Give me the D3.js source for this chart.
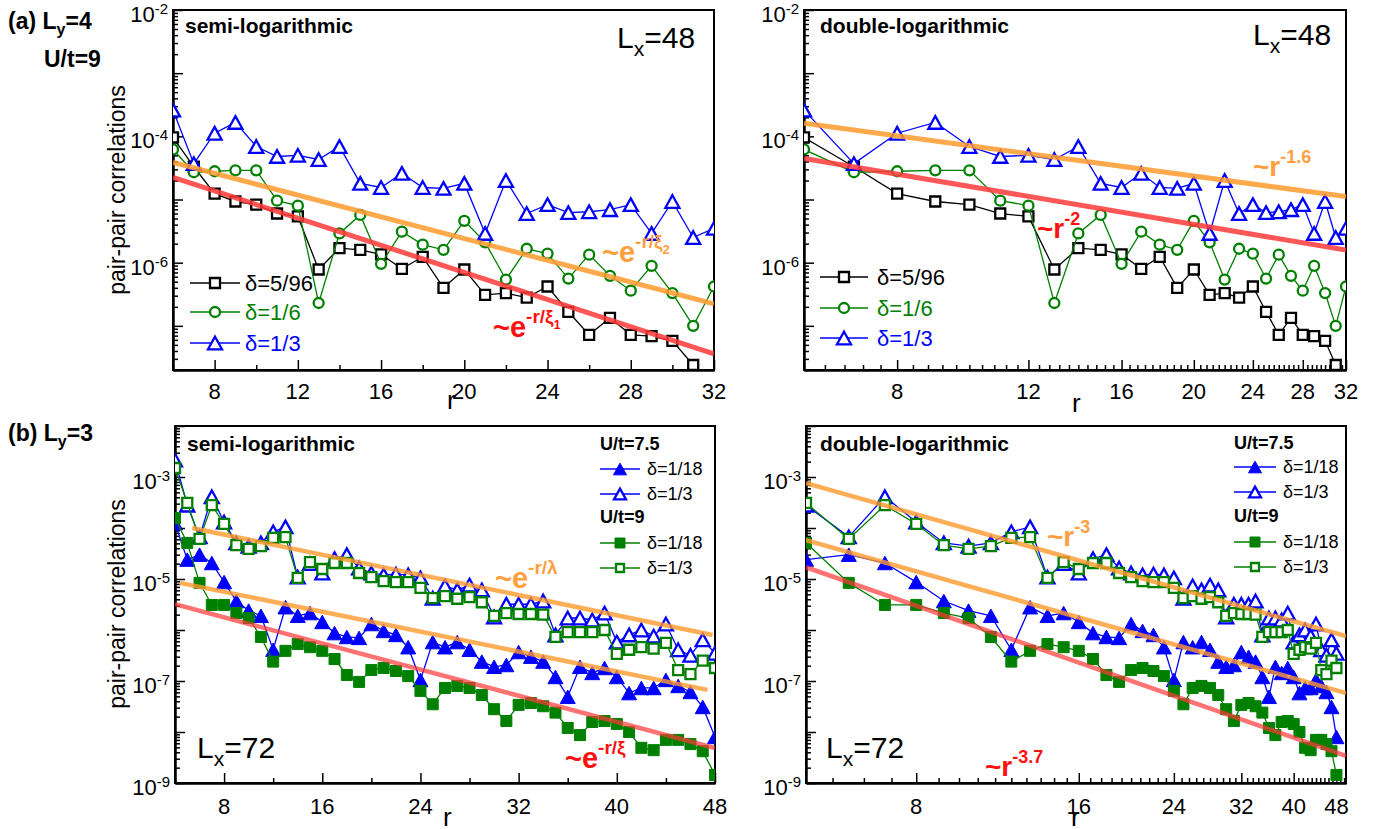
<!DOCTYPE html>
<html>
<head>
<meta charset="utf-8">
<script src="https://cdn.jsdelivr.net/npm/d3@7"></script>
<style>
  body { margin: 0; background: #fff; }
  svg { display: block; font-family: "Liberation Sans", Arial, Helvetica, sans-serif; }
</style>
</head>
<body>
<svg id="chart" width="1380" height="829"></svg>
<script>
// ---------- data: L_y = 4, U/t = 9, L_x = 48 ----------
const rShort = [6,7,8,9,10,11,12,13,14,15,16,17,18,19,20,21,22,23,24,25,26,27,28,29,30,31,32];
const corrD5_96 = [9.6e-5,3.3e-5,1.24e-5,9.3e-6,8.3e-6,6.0e-6,5.4e-6,7.8e-7,1.7e-6,1.6e-6,1.35e-6,8.0e-7,1.24e-6,4.0e-7,7.8e-7,3.1e-7,3.3e-7,2.8e-7,4.2e-7,1.67e-7,7.2e-8,1.34e-7,7.2e-8,6.9e-8,5.8e-8,2.4e-8,null];
const corrD1_6  = [6.2e-5,2.7e-5,2.8e-5,2.9e-5,2.9e-5,9.6e-6,8.0e-6,2.3e-7,2.9e-6,5.7e-6,9.6e-7,3.1e-6,1.93e-6,1.6e-6,4.6e-6,2.1e-6,5.4e-7,1.66e-6,1.39e-6,5.6e-7,1.34e-6,6.2e-7,3.6e-7,8.9e-7,3.3e-7,1.0e-7,4.2e-7];
const corrD1_3  = [2.6e-4,3.7e-5,1.12e-4,1.66e-4,6.9e-5,4.8e-5,5.0e-5,4.3e-5,6.9e-5,1.8e-5,1.55e-5,2.6e-5,1.55e-5,1.5e-5,1.8e-5,2.9e-6,2.0e-5,6.0e-6,8.3e-6,6.2e-6,6.4e-6,6.9e-6,8.3e-6,2.9e-6,9.3e-6,2.5e-6,3.5e-6];

// ---------- data: L_y = 3, L_x = 72 ----------
const rLong = [4,5,6,7,8,9,10,11,12,13,14,15,16,17,18,19,20,21,22,23,24,25,26,27,28,29,30,31,32,33,34,35,36,37,38,39,40,41,42,43,44,45,46,47,48];
const u75D1_18 = [1.25e-4,2.4e-5,3.0e-5,2.06e-5,8.7e-6,3.7e-6,2.4e-6,1.9e-6,4.1e-7,2.8e-6,1.9e-6,2.15e-6,1.44e-6,8.7e-7,7.3e-7,7.0e-7,1.31e-6,9.6e-7,8.0e-7,4.6e-7,1.05e-7,5.8e-7,4.6e-7,5.8e-7,4.1e-7,2.4e-7,1.9e-7,2.06e-7,3.7e-7,3.0e-7,2.4e-7,1.2e-7,4.9e-8,1.9e-7,1.44e-7,1.8e-7,1.2e-7,5.8e-8,7.3e-8,7.3e-8,1.05e-7,8.0e-8,6.1e-8,3.1e-8,8.0e-9];
const u75D1_3  = [2.15e-3,2.8e-4,6.7e-5,4.1e-4,1.31e-4,5.1e-5,4.4e-5,5.1e-5,8.4e-5,1.05e-4,1.09e-5,2.0e-5,1.31e-5,2.5e-5,3.0e-5,1.64e-5,1.31e-5,1.2e-5,1.25e-5,1.2e-5,1.05e-5,4.2e-6,7.3e-6,6.1e-6,7.6e-6,6.1e-6,1.8e-6,3.2e-6,3.2e-6,3.2e-6,3.7e-6,8.0e-7,1.72e-6,1.72e-6,1.57e-6,2.15e-6,5.8e-7,8.0e-7,1.0e-6,7.6e-7,1.31e-6,4.1e-7,3.2e-7,6.4e-7,3.5e-7];
const u9D1_18  = [1.57e-4,5.1e-5,8.4e-6,3.1e-6,3.1e-6,2.15e-6,1.72e-6,7.3e-7,2.4e-7,3.9e-7,5.3e-7,4.6e-7,3.9e-7,2.7e-7,1.31e-7,9.6e-8,1.64e-7,1.8e-7,1.57e-7,1.25e-7,6.4e-8,3.5e-8,7.3e-8,8.0e-8,7.3e-8,5.3e-8,2.8e-8,1.64e-8,3.4e-8,3.7e-8,3.2e-8,2.4e-8,1.2e-8,8.7e-9,1.57e-8,1.64e-8,1.44e-8,1.0e-8,4.9e-9,4.4e-9,7.0e-9,7.0e-9,5.8e-9,4.2e-9,1.44e-9];
const u9D1_3   = [1.5e-3,3.1e-4,6.1e-5,2.8e-4,1.2e-4,4.6e-5,3.9e-5,4.4e-5,6.4e-5,6.6e-5,1.05e-5,2.15e-5,1.57e-5,2.06e-5,2.06e-5,1.31e-5,1.09e-5,9.1e-6,8.7e-6,8.7e-6,6.7e-6,4.2e-6,4.6e-6,4.1e-6,4.4e-6,3.5e-6,1.9e-6,2.15e-6,2.06e-6,2.06e-6,2.0e-6,7.3e-7,9.1e-7,9.1e-7,9.1e-7,1.0e-6,3.4e-7,4.1e-7,4.6e-7,4.3e-7,5.6e-7,1.64e-7,1.37e-7,2.5e-7,1.8e-7];

// ---------- fitted decays: [r, value] end points ----------
const fitExpXi2    = [[6, 3.87e-5], [32, 2.23e-7]];
const fitExpXi1    = [[6, 2.24e-5], [32, 3.6e-8]];
const fitPow16     = [[6, 1.61e-4], [32, 1.11e-5]];
const fitPow2      = [[6, 4.48e-5], [32, 1.58e-6]];
const fitExpLamHi  = [[5.4, 1.0e-4], [47.8, 8.0e-7]];
const fitExpLamLo  = [[4.4, 8.4e-6], [47.4, 6.7e-8]];
const fitExpXi     = [[4, 3.2e-6], [48, 4.85e-9]];
const fitPow3Hi    = [[5, 7.6e-4], [50, 7.6e-7]];
const fitPow3Lo    = [[5, 5.8e-5], [50, 5.8e-8]];
const fitPow37     = [[5, 1.7e-5], [50, 3.4e-9]];

// ---------- tick labels ----------
const xTicksTop = [8, 12, 16, 20, 24, 28, 32];
const xTicksBottom = [8, 16, 24, 32, 40, 48];
const yLabelsTop = [-2, -4, -6];
const yLabelsBottom = [-3, -5, -7, -9];

// ---------- styling ----------
const BLUE = "#0000ff", GREEN = "#008000", BLACK = "#000000";
const ORANGE_LINE = "#ff9a2e", RED_LINE = "#ff3838";
const ORANGE_TXT = "#ffa040", RED_TXT = "#ff1010";

const svg = d3.select("#chart");
const defs = svg.append("defs");

function rich(parent, x, y, parts, attrs) {
  const t = parent.append("text").attr("x", x).attr("y", y);
  Object.entries(attrs || {}).forEach(([k, v]) => t.attr(k, v));
  parts.forEach(p => {
    const s = t.append("tspan").text(p.t);
    if (p.size) s.attr("font-size", p.size);
    if (p.dy) s.attr("dy", p.dy);
    if (p.weight) s.attr("font-weight", p.weight);
  });
  return t;
}

const sq = s => `M${-s/2},${-s/2}h${s}v${s}h${-s}Z`;
const tri = w => { const h = w * 0.9; return `M0,${-h/2}L${w/2},${h/2}L${-w/2},${h/2}Z`; };
const circ = r => `M${-r},0a${r},${r} 0 1,0 ${2*r},0a${r},${r} 0 1,0 ${-2*r},0Z`;

function panel(cfg) {
  const g = svg.append("g");
  const x = (cfg.xLog ? d3.scaleLog() : d3.scaleLinear()).domain(cfg.xDomain).range([cfg.x0, cfg.x1]);
  const y = d3.scaleLog().domain(cfg.yDomain).range([cfg.y1, cfg.y0]);
  const clipId = "clip-" + cfg.id;
  defs.append("clipPath").attr("id", clipId).append("rect")
    .attr("x", cfg.x0).attr("y", cfg.y0).attr("width", cfg.x1 - cfg.x0).attr("height", cfg.y1 - cfg.y0);

  // y ticks: decades plus 2..9 minors
  const lo = Math.log10(cfg.yDomain[0]), hi = Math.log10(cfg.yDomain[1]);
  const yMaj = [], yMin = [];
  for (let e = Math.floor(lo); e <= Math.ceil(hi); e++) {
    const d = Math.pow(10, e);
    if (e >= lo - 1e-9 && e <= hi + 1e-9) yMaj.push(d);
    for (let m = 2; m <= 9; m++) {
      const v = m * d;
      if (v >= cfg.yDomain[0] * 0.999 && v <= cfg.yDomain[1]) yMin.push(v);
    }
  }
  const axG = g.append("g").attr("stroke-width", 1.5);
  axG.append("g").attr("transform", `translate(${cfg.x0},0)`)
    .call(d3.axisLeft(y).tickValues(yMin).tickSize(-5).tickSizeOuter(0).tickFormat(""));
  axG.append("g").attr("transform", `translate(${cfg.x0},0)`)
    .call(d3.axisLeft(y).tickValues(yMaj).tickSize(-10).tickSizeOuter(0).tickFormat(""));
  axG.append("g").attr("transform", `translate(0,${cfg.y1})`)
    .call(d3.axisBottom(x).tickValues(cfg.xMinor).tickSize(-5).tickSizeOuter(0).tickFormat(""));
  axG.append("g").attr("transform", `translate(0,${cfg.y1})`)
    .call(d3.axisBottom(x).tickValues(cfg.xMajor).tickSize(-10).tickSizeOuter(0).tickFormat(""));
  axG.selectAll(".tick line").attr("stroke", "#000").attr("stroke-width", 1.5);
  axG.selectAll(".domain").attr("stroke", "#000").attr("stroke-width", 2);

  g.append("rect").attr("x", cfg.x0).attr("y", cfg.y0)
    .attr("width", cfg.x1 - cfg.x0).attr("height", cfg.y1 - cfg.y0)
    .attr("fill", "none").attr("stroke", "#000").attr("stroke-width", 2);

  // tick labels
  cfg.yLabels.forEach(e => {
    rich(g, cfg.x0 - 5, y(Math.pow(10, e)) + 12,
      [{ t: "10", size: 22 }, { t: String(e), size: 15, dy: -8 }],
      { "text-anchor": "end", fill: "#000" });
  });
  cfg.xLabels.forEach(v => {
    g.append("text").attr("x", x(v)).attr("y", cfg.y1 + cfg.xLabelDy)
      .attr("text-anchor", "middle").attr("font-size", 22).text(v);
  });

  const plot = g.append("g").attr("clip-path", `url(#${clipId})`);
  return { g, plot, x, y };
}

function series(p, rs, vs, color, marker, filled, lw) {
  const pts = rs.map((r, i) => [r, vs[i]]).filter(d => d[1] != null);
  p.plot.append("path")
    .attr("d", d3.line().x(d => p.x(d[0])).y(d => p.y(d[1]))(pts))
    .attr("fill", "none").attr("stroke", color).attr("stroke-width", lw || 1.3);
  p.plot.selectAll(null).data(pts).enter().append("path")
    .attr("transform", d => `translate(${p.x(d[0])},${p.y(d[1])})`)
    .attr("d", marker)
    .attr("fill", filled ? color : "#fff")
    .attr("stroke", color).attr("stroke-width", filled ? 1 : 2.3);
}

function fit(p, pts, color, width, opacity) {
  p.plot.append("path")
    .attr("d", d3.line().x(d => p.x(d[0])).y(d => p.y(d[1]))(pts))
    .attr("fill", "none").attr("stroke", color).attr("stroke-width", width)
    .attr("stroke-opacity", opacity).attr("stroke-linecap", "butt");
}

function legendItem(g, x0, x1, y, marker, color, filled, label, size, txtColor, tx) {
  g.append("line").attr("x1", x0).attr("x2", x1).attr("y1", y).attr("y2", y)
    .attr("stroke", color).attr("stroke-width", 1.3);
  g.append("path").attr("transform", `translate(${(x0 + x1) / 2},${y})`).attr("d", marker)
    .attr("fill", filled ? color : "#fff").attr("stroke", color).attr("stroke-width", filled ? 1 : 2.3);
  g.append("text").attr("x", tx).attr("y", y + size * 0.36).attr("font-size", size)
    .attr("fill", txtColor).text(label);
}

// ---------- minor x ticks ----------
const minorTopLin = [6, 10, 14, 18, 22, 26, 30];
const minorTopLog = [];
for (let k = 0; k <= 65; k++) { const v = +(6 + 0.4 * k).toFixed(2); if (v <= 32 && xTicksTop.indexOf(v) < 0) minorTopLog.push(v); }
const minorBotLin = [4, 12, 20, 28, 36, 44];
const minorBotLog = [];
for (let k = 0; k <= 60; k++) { const v = +(5.6 + 0.8 * k).toFixed(2); if (v <= 50 && xTicksBottom.indexOf(v) < 0) minorBotLog.push(v); }

// ---------- panel (a) semi-logarithmic ----------
const pA1 = panel({ id: "a1", x0: 173, y0: 10, x1: 714, y1: 370, xLog: false, xDomain: [6, 32],
  yDomain: [2e-8, 1e-2], xMajor: xTicksTop, xMinor: minorTopLin, xLabels: xTicksTop, xLabelDy: 29, yLabels: yLabelsTop });
series(pA1, rShort, corrD5_96, BLACK, sq(10), false);
series(pA1, rShort, corrD1_6, GREEN, circ(5), false);
series(pA1, rShort, corrD1_3, BLUE, tri(14), false);
fit(pA1, fitExpXi2, ORANGE_LINE, 5, 0.85);
fit(pA1, fitExpXi1, RED_LINE, 5, 0.85);

// ---------- panel (a) double-logarithmic ----------
const pA2 = panel({ id: "a2", x0: 804, y0: 10, x1: 1346, y1: 370, xLog: true, xDomain: [6, 32],
  yDomain: [2e-8, 1e-2], xMajor: xTicksTop, xMinor: minorTopLog, xLabels: xTicksTop, xLabelDy: 29, yLabels: yLabelsTop });
series(pA2, rShort, corrD5_96, BLACK, sq(10), false);
series(pA2, rShort, corrD1_6, GREEN, circ(5), false);
series(pA2, rShort, corrD1_3, BLUE, tri(14), false);
fit(pA2, fitPow16, ORANGE_LINE, 5, 0.85);
fit(pA2, fitPow2, RED_LINE, 5, 0.85);

// ---------- panel (b) semi-logarithmic ----------
const pB1 = panel({ id: "b1", x0: 175, y0: 426, x1: 715, y1: 783, xLog: false, xDomain: [4, 48],
  yDomain: [1e-9, 1e-2], xMajor: xTicksBottom, xMinor: minorBotLin, xLabels: xTicksBottom, xLabelDy: 31, yLabels: yLabelsBottom });
series(pB1, rLong, u75D1_18, BLUE, tri(15), true);
series(pB1, rLong, u75D1_3, BLUE, tri(14), false);
series(pB1, rLong, u9D1_18, GREEN, sq(11), true);
series(pB1, rLong, u9D1_3, GREEN, sq(10), false);
fit(pB1, fitExpLamHi, ORANGE_LINE, 4.5, 0.8);
fit(pB1, fitExpLamLo, ORANGE_LINE, 4.5, 0.8);
fit(pB1, fitExpXi, RED_LINE, 4.5, 0.7);

// ---------- panel (b) double-logarithmic ----------
const pB2 = panel({ id: "b2", x0: 806, y0: 426, x1: 1346, y1: 783, xLog: true, xDomain: [5, 50],
  yDomain: [1e-9, 1e-2], xMajor: xTicksBottom, xMinor: minorBotLog, xLabels: xTicksBottom, xLabelDy: 31, yLabels: yLabelsBottom });
series(pB2, rLong, u75D1_18, BLUE, tri(15), true);
series(pB2, rLong, u75D1_3, BLUE, tri(14), false);
series(pB2, rLong, u9D1_18, GREEN, sq(11), true);
series(pB2, rLong, u9D1_3, GREEN, sq(10), false);
fit(pB2, fitPow3Hi, ORANGE_LINE, 4.5, 0.8);
fit(pB2, fitPow3Lo, ORANGE_LINE, 4.5, 0.8);
fit(pB2, fitPow37, RED_LINE, 4.5, 0.7);

// ---------- annotations ----------
const ann = svg.append("g").attr("fill", "#000");
rich(ann, 8, 29, [{ t: "(a) L", size: 23 }, { t: "y", size: 16, dy: 6 }, { t: "=4", size: 23, dy: -6 }], { "font-weight": "bold" });
rich(ann, 44, 67, [{ t: "U/t=9", size: 23 }], { "font-weight": "bold" });
rich(ann, 8, 441, [{ t: "(b) L", size: 23 }, { t: "y", size: 16, dy: 6 }, { t: "=3", size: 23, dy: -6 }], { "font-weight": "bold" });

rich(ann, 185, 33, [{ t: "semi-logarithmic", size: 21 }], { "font-weight": "bold" });
rich(ann, 820, 33, [{ t: "double-logarithmic", size: 21 }], { "font-weight": "bold" });
rich(ann, 187, 451, [{ t: "semi-logarithmic", size: 21 }], { "font-weight": "bold" });
rich(ann, 820, 451, [{ t: "double-logarithmic", size: 21 }], { "font-weight": "bold" });

const lx = (x, y, n) => rich(ann, x, y, [{ t: "L", size: 30 }, { t: "x", size: 21, dy: 8 }, { t: "=" + n, size: 30, dy: -8 }]);
lx(617, 48, 48);
lx(1253, 45, 48);
lx(197, 758, 72);
lx(826, 758, 72);

// y-axis titles
[190, 604].forEach(cy => {
  ann.append("text").attr("transform", `translate(125,${cy}) rotate(-90)`)
    .attr("text-anchor", "middle").attr("font-size", 23).text("pair-pair correlations");
});
// x-axis titles
[[447, 409], [1072, 412], [443, 826], [1071, 826]].forEach(([x, y]) => {
  ann.append("text").attr("x", x).attr("y", y).attr("font-size", 26).text("r");
});

// fit labels
const expLbl = (x, y, color, sub) => rich(ann, x, y,
  [{ t: "~e", size: 29 }, { t: sub.sup, size: 19, dy: -14 }].concat(sub.idx ? [{ t: sub.idx, size: 13, dy: 6 }] : []),
  { "font-weight": "bold", fill: color });
expLbl(602, 262, ORANGE_TXT, { sup: "-r/ξ", idx: "2" });
expLbl(493, 337, RED_TXT, { sup: "-r/ξ", idx: "1" });
expLbl(495, 588, ORANGE_TXT, { sup: "-r/λ" });
expLbl(565, 768, RED_TXT, { sup: "-r/ξ" });
const powLbl = (x, y, color, exp) => rich(ann, x, y,
  [{ t: "~r", size: 28 }, { t: exp, size: 18, dy: -13 }], { "font-weight": "bold", fill: color });
powLbl(1253, 176, ORANGE_TXT, "-1.6");
powLbl(1037, 238, RED_TXT, "-2");
powLbl(1047, 546, ORANGE_TXT, "-3");
powLbl(985, 776, RED_TXT, "-3.7");

// ---------- legends ----------
const lg = svg.append("g");
[[190, 240, 245, [283, 312, 343]], [820, 868, 877, [277, 308, 338]]].forEach(([a, b, tx, ys]) => {
  legendItem(lg, a, b, ys[0], sq(10), BLACK, false, "δ=5/96", 22, BLACK, tx);
  legendItem(lg, a, b, ys[1], circ(5), GREEN, false, "δ=1/6", 22, GREEN, tx);
  legendItem(lg, a, b, ys[2], tri(14), BLUE, false, "δ=1/3", 22, BLUE, tx);
});
[[600, 640, 647, [450, 469, 494, 523, 543, 568]], [1234, 1276, 1283, [449, 467, 492, 522, 542, 567]]].forEach(([a, b, tx, ys]) => {
  rich(lg, a, ys[0], [{ t: "U/t=7.5", size: 18 }], { "font-weight": "bold" });
  legendItem(lg, a, b, ys[1], tri(13), BLUE, true, "δ=1/18", 18, BLACK, tx);
  legendItem(lg, a, b, ys[2], tri(12), BLUE, false, "δ=1/3", 18, BLACK, tx);
  rich(lg, a, ys[3], [{ t: "U/t=9", size: 18 }], { "font-weight": "bold" });
  legendItem(lg, a, b, ys[4], sq(10), GREEN, true, "δ=1/18", 18, BLACK, tx);
  legendItem(lg, a, b, ys[5], sq(8), GREEN, false, "δ=1/3", 18, BLACK, tx);
});
</script>
</body>
</html>
